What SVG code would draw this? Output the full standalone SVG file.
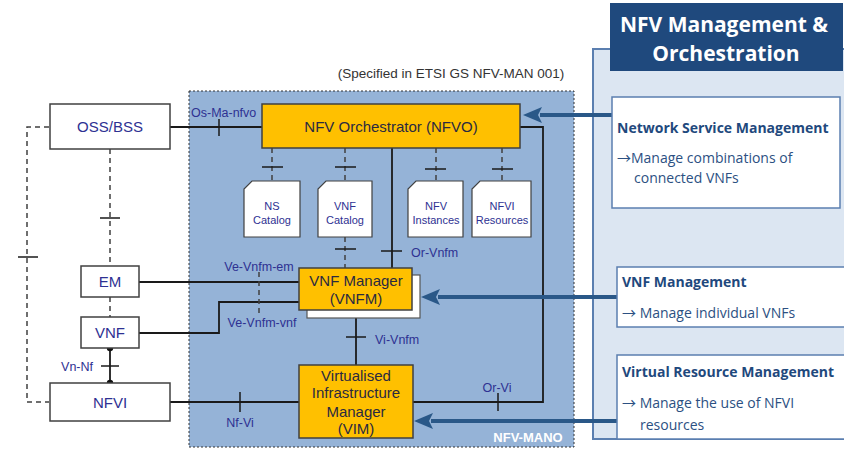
<svg xmlns="http://www.w3.org/2000/svg" width="844" height="449" viewBox="0 0 844 449">
<style>
.box{fill:#fff;stroke:#404040;stroke-width:1.5}
.orange{fill:#ffc000;stroke:#404040;stroke-width:1.5}
.doc{fill:#fff;stroke:#404040;stroke-width:1.2}
.t{font-family:"Liberation Sans",Arial,sans-serif;fill:#2e3192;text-anchor:middle}
.to{font-family:"Liberation Sans",Arial,sans-serif;fill:#2a2a40;text-anchor:middle;font-size:15px}
.lbl{font-family:"Liberation Sans",Arial,sans-serif;fill:#2e3192;font-size:12.5px}
.ln{fill:none;stroke:#1a1a1a;stroke-width:1.8}
.dash{fill:none;stroke:#404040;stroke-width:1.5;stroke-dasharray:5,4}
.tick{stroke:#1a1a1a;stroke-width:1.5}
.arrow{fill:none;stroke:#2a5888;stroke-width:4}
.rb{font-family:"Open Sans","Noto Sans",sans-serif;font-weight:bold;fill:#1f497d;font-size:14px}
.rt{font-family:"Open Sans","Noto Sans",sans-serif;fill:#2c5082;font-size:14px}
.ar{font-family:"Noto Sans CJK SC","DejaVu Sans",sans-serif;font-size:14px}
.panelbox{fill:#fff;stroke:#5b7fb0;stroke-width:1.5}
</style>
<rect width="844" height="449" fill="#fff"/>

<!-- right panel -->
<g id="panel">
<rect x="593" y="49" width="260" height="390" fill="#dce6f2" stroke="#5b7fb0" stroke-width="2"/>
</g>
<g id="title">
<rect x="610" y="3" width="233" height="68" fill="#1f497d"/>
<text x="724" y="32" font-family="'Open Sans','Noto Sans',sans-serif" font-weight="bold" font-size="21" fill="#fff" text-anchor="middle">NFV Management &amp;</text>
<text x="726" y="61" font-family="'Open Sans','Noto Sans',sans-serif" font-weight="bold" font-size="21" fill="#fff" text-anchor="middle">Orchestration</text>
</g>

<!-- MANO area -->
<g id="nfv-mano">
<rect x="189" y="91" width="385" height="356" fill="#95b3d7" stroke="#333" stroke-width="1" stroke-dasharray="2,2"/>
<text x="528" y="442" font-family="'Liberation Sans',Arial,sans-serif" font-weight="bold" font-size="13" fill="#fff" text-anchor="middle">NFV-MANO</text>
</g>
<text x="451" y="78" font-family="'Liberation Sans',Arial,sans-serif" font-size="13.5" fill="#333" text-anchor="middle">(Specified in ETSI GS NFV-MAN 001)</text>

<!-- connectors -->
<g id="connectors">
<path class="dash" d="M49,127 H27 V402 H49"/>
<line class="tick" x1="18" y1="257" x2="38" y2="257"/>
<path class="dash" d="M110,149 V266"/>
<line class="tick" x1="100" y1="218" x2="120" y2="218"/>
<path class="dash" d="M110,297 V317"/>
<line class="ln" x1="110" y1="348" x2="110" y2="383" stroke-width="2.2"/>
<circle cx="110" cy="348" r="3.2" fill="#111"/>
<circle cx="110" cy="383" r="3.2" fill="#111"/>
<line class="tick" x1="101" y1="366" x2="119" y2="366"/>
<text class="lbl" x="93" y="371" text-anchor="end">Vn-Nf</text>
<line class="ln" x1="170" y1="127" x2="262" y2="127"/>
<line class="tick" x1="219" y1="119" x2="219" y2="136"/>
<text class="lbl" x="191" y="117">Os-Ma-nfvo</text>
<line class="ln" x1="170" y1="402" x2="299" y2="402"/>
<line class="tick" x1="240" y1="392" x2="240" y2="412"/>
<text class="lbl" x="240" y="427" text-anchor="middle">Nf-Vi</text>
<path class="dash" d="M272,148 V181 M345,148 V181 M436,148 V181 M502,148 V181" stroke-dasharray="4,3"/>
<line class="tick" x1="262" y1="167" x2="283" y2="167"/>
<line class="tick" x1="335" y1="167" x2="356" y2="167"/>
<line class="tick" x1="425" y1="169" x2="446" y2="169"/>
<line class="tick" x1="492" y1="169" x2="513" y2="169"/>
<path class="dash" d="M345,237 V268" stroke-dasharray="4,3"/>
<line class="tick" x1="335" y1="249" x2="356" y2="249"/>
<line class="ln" x1="392" y1="148" x2="392" y2="268"/>
<line class="tick" x1="381" y1="251" x2="402" y2="251"/>
<text class="lbl" x="411" y="257">Or-Vnfm</text>
<line class="ln" x1="139" y1="282" x2="299" y2="282"/>
<path class="ln" d="M139,333 H219 V302 H299"/>
<path class="dash" d="M259,272 V313" stroke-dasharray="6,3"/>
<text class="lbl" x="259" y="271" text-anchor="middle">Ve-Vnfm-em</text>
<text class="lbl" x="262" y="327" text-anchor="middle">Ve-Vnfm-vnf</text>
<line class="ln" x1="356" y1="310" x2="356" y2="365"/>
<line class="tick" x1="346" y1="337" x2="366" y2="337"/>
<text class="lbl" x="375" y="344">Vi-Vnfm</text>
<path class="ln" d="M520,127 H543 V402 H413"/>
<line class="tick" x1="498" y1="393" x2="498" y2="411"/>
<text class="lbl" x="497" y="392" text-anchor="middle">Or-Vi</text>
<line class="arrow" x1="612" y1="115" x2="540" y2="115"/>
<path d="M523,115 L542,107 L538,115 L542,123 Z" fill="#2a5888"/>
<line class="arrow" x1="617" y1="297" x2="438" y2="297"/>
<path d="M421,297 L440,289 L436,297 L440,305 Z" fill="#2a5888"/>
<line class="arrow" x1="617" y1="421" x2="431" y2="421"/>
<path d="M414,421 L433,413 L429,421 L433,429 Z" fill="#2a5888"/>
</g>

<!-- nodes -->
<g id="oss-bss">
<rect class="box" x="50" y="104" width="120" height="45"/>
<text class="t" x="110" y="132" font-size="15">OSS/BSS</text>
</g>
<g id="em">
<rect class="box" x="81" y="266" width="58" height="31"/>
<text class="t" x="110" y="287" font-size="15">EM</text>
</g>
<g id="vnf">
<rect class="box" x="81" y="317" width="58" height="31"/>
<text class="t" x="110" y="338" font-size="15">VNF</text>
</g>
<g id="nfvi">
<rect class="box" x="50" y="383" width="120" height="38"/>
<text class="t" x="110" y="408" font-size="15">NFVI</text>
</g>
<g id="nfvo">
<rect class="orange" x="262" y="104" width="258" height="44"/>
<text class="to" x="391" y="132">NFV Orchestrator (NFVO)</text>
</g>
<g id="ns-catalog">
<path class="doc" d="M252,181 H300 V237 H244 V189 Z"/>
<text class="t" x="272" y="210" font-size="11">NS</text>
<text class="t" x="272" y="224" font-size="11">Catalog</text>
</g>
<g id="vnf-catalog">
<path class="doc" d="M326,181 H372 V237 H318 V189 Z"/>
<text class="t" x="345" y="210" font-size="11">VNF</text>
<text class="t" x="345" y="224" font-size="11">Catalog</text>
</g>
<g id="nfv-instances">
<path class="doc" d="M416,181 H463 V237 H408 V189 Z"/>
<text class="t" x="436" y="210" font-size="11">NFV</text>
<text class="t" x="436" y="224" font-size="11">Instances</text>
</g>
<g id="nfvi-resources">
<path class="doc" d="M480,181 H531 V237 H472 V189 Z"/>
<text class="t" x="502" y="210" font-size="11">NFVI</text>
<text class="t" x="502" y="224" font-size="11">Resources</text>
</g>
<g id="vnfm">
<rect x="307" y="275" width="113" height="43" fill="#fff" stroke="#555" stroke-width="1.2"/>
<rect class="orange" x="299" y="268" width="113" height="42"/>
<text class="to" x="356" y="286">VNF Manager</text>
<text class="to" x="356" y="304">(VNFM)</text>
</g>
<g id="vim">
<rect class="orange" x="299" y="365" width="114" height="73"/>
<text class="to" x="356" y="381">Virtualised</text>
<text class="to" x="356" y="398">Infrastructure</text>
<text class="to" x="356" y="417">Manager</text>
<text class="to" x="356" y="434">(VIM)</text>
</g>

<g id="network-service-management">
<rect class="panelbox" x="612" y="97" width="228" height="111"/>
<text class="rb" x="617" y="133">Network Service Management</text>
<text class="rt" x="617" y="163"><tspan class="ar">→</tspan>Manage combinations of</text>
<text class="rt" x="634" y="183">connected VNFs</text>
</g>
<g id="vnf-management">
<rect class="panelbox" x="617" y="267" width="240" height="60"/>
<text class="rb" x="622" y="287">VNF Management</text>
<text class="rt" x="622" y="318"><tspan class="ar">→</tspan> Manage individual VNFs</text>
</g>
<g id="virtual-resource-management">
<rect class="panelbox" x="617" y="355" width="240" height="84"/>
<text class="rb" x="622" y="377">Virtual Resource Management</text>
<text class="rt" x="622" y="408"><tspan class="ar">→</tspan> Manage the use of NFVI</text>
<text class="rt" x="640" y="430">resources</text>
</g>
</svg>
